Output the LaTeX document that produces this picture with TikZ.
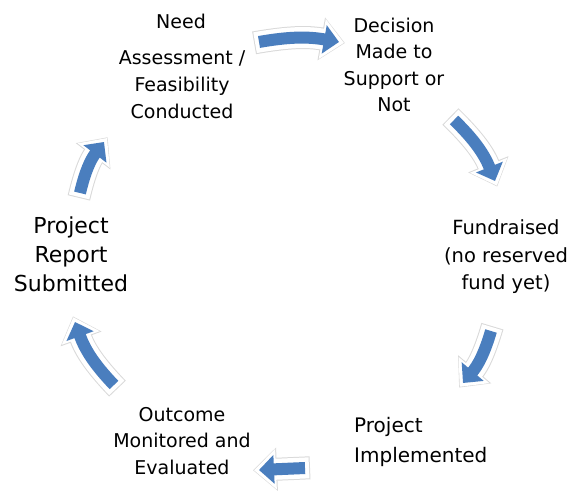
\documentclass[tikz,border=0pt]{standalone}
\usepackage{fontspec}
\setmainfont{DejaVu Sans}
\usetikzlibrary{arrows.meta}
\definecolor{cycleblue}{RGB}{74,126,190}

\begin{document}
\begin{tikzpicture}[x=1bp, y=1bp,
    steptext/.style={align=center, inner sep=0pt},
    cyclearrow/.style={line width=12bp, draw=cycleblue, -{Triangle[length=15bp,width=28bp]},
      preaction={draw=black!15, line width=23bp, -{Triangle[length=24bp,width=42bp]}, shorten >=-6bp, shorten <=-5bp},
      preaction={draw=white, line width=21bp, -{Triangle[length=22bp,width=39bp]}, shorten >=-5bp, shorten <=-4bp}}]
    \useasboundingbox (0,0) rectangle (569,-494);

    \begin{scope}
      \node [steptext, font=\fontsize{19bp}{26bp}\selectfont] (0) at (181,-21.5) {Need};
      \node [steptext, font=\fontsize{19bp}{27bp}\selectfont] (1) at (182,-85) {Assessment /\\Feasibility\\Conducted};
      \node [steptext, font=\fontsize{19bp}{26.3bp}\selectfont] (2) at (394,-65) {Decision\\Made to\\Support or\\Not};
      \node [steptext, font=\fontsize{19.5bp}{27.5bp}\selectfont] (3) at (506,-257) {Fundraised\\(no reserved\\fund yet)};
      \node [steptext, align=left, anchor=west, font=\fontsize{20bp}{30bp}\selectfont] (4) at (354,-441.5) {Project\\Implemented};
      \node [steptext, font=\fontsize{19bp}{26.5bp}\selectfont] (5) at (182,-441) {Outcome\\Monitored and\\Evaluated};
      \node [steptext, font=\fontsize{22bp}{29bp}\selectfont] (6) at (71,-254) {Project\\Report\\Submitted};
    \end{scope}

    % arrow ends
    \coordinate (a1) at (259,-42);  \coordinate (b1) at (339,-42);
    \coordinate (a2) at (454,-120); \coordinate (b2) at (495,-181);
    \coordinate (a3) at (491,-331); \coordinate (b3) at (463,-383);
    \coordinate (a4) at (305,-468); \coordinate (b4) at (259,-470);
    \coordinate (a5) at (114,-385); \coordinate (b5) at (75,-322);
    \coordinate (a6) at (80,-193);  \coordinate (b6) at (104,-142);

    \begin{scope}
      \draw [cyclearrow] (a1) to [bend left=10] (b1);
      \draw [cyclearrow] (a2) to [bend left=12] (b2);
      \draw [cyclearrow] (a3) to [bend left=12] (b3);
      \draw [cyclearrow] (a4) to (b4);
      \draw [cyclearrow] (a5) to [bend left=12] (b5);
      \draw [cyclearrow] (a6) to [bend left=12] (b6);
    \end{scope}
  \end{tikzpicture}
\end{document}
